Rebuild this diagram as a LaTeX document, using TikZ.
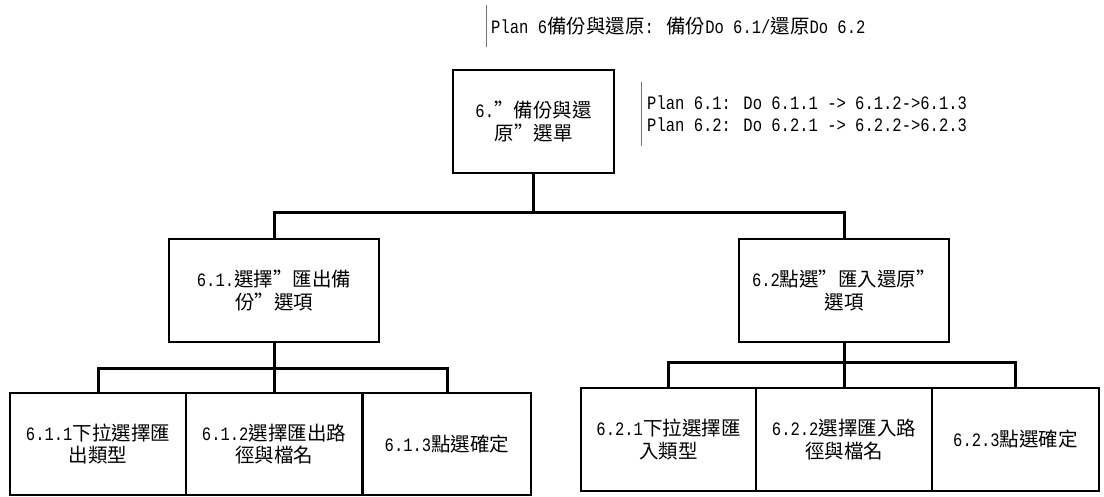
\documentclass[tikz,border=0pt]{standalone}
\usepackage{fontspec}
\setmainfont[FakeStretch=0.82]{Liberation Mono}
\newfontfamily\cjk[Scale=1.03]{Noto Sans CJK TC}
\newcommand\C[1]{{\cjk #1}}
\begin{document}
\begin{tikzpicture}[x=1bp,y=-1bp,
  every node/.style={font=\fontsize{19}{22.5}\selectfont},
  task/.style={draw=black,line width=1.6bp,fill=white,inner sep=0pt,align=center},
  conn/.style={draw=black,line width=3bp},
  planline/.style={draw=black!55,line width=0.8bp},
  plantext/.style={anchor=west,align=left,inner sep=0pt}]
\useasboundingbox (0,0) rectangle (1104,497);
\fill[white] (0,0) rectangle (1104,497);

% boxes
\node[task,minimum width=161bp,minimum height=103bp] (root) at (533.5,121.5) {6.\C{”備份與還}\\\C{原”選單}};
\node[task,minimum width=210bp,minimum height=103bp] (n61) at (274,290.5) {6.1.\C{選擇”匯出備}\\\C{份”選項}};
\node[task,minimum width=210bp,minimum height=103bp] (n62) at (844,290.5) {6.2\C{點選”匯入還原”}\\\C{選項}};

\node[task,minimum width=176bp,minimum height=102bp] (n611) at (98,444) {6.1.1\C{下拉選擇匯}\\\C{出類型}};
\node[task,minimum width=176bp,minimum height=102bp] (n612) at (274,444) {6.1.2\C{選擇匯出路}\\\C{徑與檔名}};
\node[task,minimum width=168bp,minimum height=102bp] (n613) at (447,444) {6.1.3\C{點選確定}};

\node[task,minimum width=175bp,minimum height=103bp] (n621) at (668.5,439.5) {6.2.1\C{下拉選擇匯}\\\C{入類型}};
\node[task,minimum width=176bp,minimum height=103bp] (n622) at (844,439.5) {6.2.2\C{選擇匯入路}\\\C{徑與檔名}};
\node[task,minimum width=167bp,minimum height=103bp] (n623) at (1015.5,439.5) {6.2.3\C{點選確定}};

% connectors
\path (root.south) ++(0,39) coordinate (j0);
\draw[conn] (root.south) -- (j0);
\draw[conn] (n61.north) |- (j0) -| (n62.north);
\path (n61.south) ++(0,26) coordinate (j1);
\draw[conn] (n61.south) -- (n612.north);
\draw[conn] (n611.north) |- (j1) -| (n613.north);
\path (n62.south) ++(0,20) coordinate (j2);
\draw[conn] (n62.south) -- (n622.north);
\draw[conn] (n621.north) |- (j2) -| (n623.north);

% plans
\node[plantext] (p6) at (491,26) {Plan 6\C{備份與還原}: \C{備份}Do 6.1/\C{還原}Do 6.2};
\draw[planline] ([xshift=-5bp]p6.west) ++(0,-21) -- ++(0,42);
\node[plantext] (p61) at (647,114) {Plan 6.1: Do 6.1.1 -> 6.1.2->6.1.3\\Plan 6.2: Do 6.2.1 -> 6.2.2->6.2.3};
\draw[planline] ([xshift=-6bp]p61.west) ++(0,-32) -- ++(0,64);
\end{tikzpicture}
\end{document}
